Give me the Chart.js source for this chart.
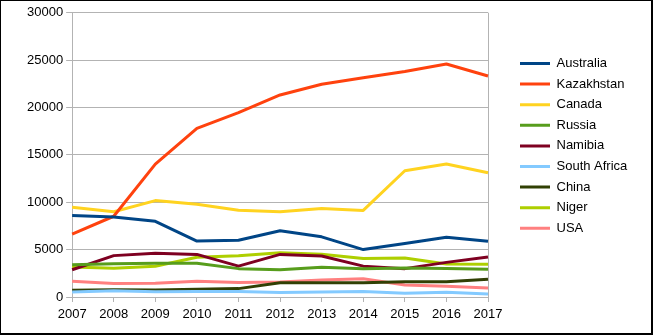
<!DOCTYPE html>
<html>
<head>
<meta charset="utf-8">
<script src="https://cdn.jsdelivr.net/npm/chart.js@4"></script>
<style>
  html, body { margin: 0; padding: 0; background: #fff; }
  #wrap { position: relative; width: 653px; height: 335px; }
  #frame { position: absolute; left: 0; top: 0; width: 653px; height: 335px; box-sizing: border-box;
           border-top: 1px solid #000; border-left: 1px solid #000; border-right: 2px solid #000; border-bottom: 2px solid #000; pointer-events: none; }
  canvas { display: block; }
</style>
</head>
<body>
<div id="wrap">
  <canvas id="c" width="653" height="335"></canvas>
  <div id="frame"></div>
</div>
<script>
const years = ['2007','2008','2009','2010','2011','2012','2013','2014','2015','2016','2017'];
const australia   = [8611, 8430, 7982, 5900, 5983, 6991, 6350, 5001, 5654, 6315, 5882];
const kazakhstan  = [6637, 8521, 14020, 17803, 19451, 21317, 22451, 23127, 23800, 24586, 23321];
const canada      = [9476, 9000, 10173, 9783, 9145, 8999, 9331, 9134, 13325, 14039, 13116];
const russia      = [3413, 3521, 3564, 3562, 2993, 2872, 3135, 2990, 3055, 3004, 2917];
const namibia     = [2879, 4366, 4626, 4496, 3258, 4495, 4323, 3255, 2993, 3654, 4224];
const southAfrica = [539, 655, 563, 583, 582, 465, 531, 573, 393, 490, 308];
const china       = [712, 769, 750, 827, 885, 1500, 1500, 1500, 1616, 1616, 1885];
const niger       = [3153, 3032, 3243, 4198, 4351, 4667, 4518, 4057, 4116, 3479, 3449];
const usa         = [1654, 1430, 1453, 1660, 1537, 1596, 1792, 1919, 1256, 1125, 940];

const seriesNames = ['Australia','Kazakhstan','Canada','Russia','Namibia','South Africa','China','Niger','USA'];
const seriesData  = [australia, kazakhstan, canada, russia, namibia, southAfrica, china, niger, usa];
const seriesColors = ['#004586','#ff420e','#ffd320','#579d1c','#7e0021','#83caff','#314004','#aecf00','#ff8080'];

const yTicks = [0, 5000, 10000, 15000, 20000, 25000, 30000];

const GRID = '#b3b3b3';
const FONT = { family: 'Liberation Sans, Arial, sans-serif', size: 13 };

const legendPlace = {
  id: 'legendPlace',
  beforeLayout(chart) {
    const lg = chart.legend;
    if (lg && !lg._patched) {
      const orig = lg.fit.bind(lg);
      lg.fit = function () { orig(); this.width = 165; };
      lg._patched = true;
    }
  },
  afterLayout(chart) {
    const lg = chart.legend;
    const pad = lg.options.labels.padding;
    lg.left = chart.chartArea.right + 32 - pad;
    lg.top = 57 - pad;
  }
};

new Chart(document.getElementById('c'), {
  type: 'line',
  data: {
    labels: years,
    datasets: seriesNames.map((n, i) => ({
      label: n,
      data: seriesData[i],
      borderColor: seriesColors[i],
      backgroundColor: seriesColors[i],
      borderWidth: 3,
      pointRadius: 0,
      tension: 0,
      borderJoinStyle: 'round'
    }))
  },
  options: {
    responsive: false,
    animation: false,
    devicePixelRatio: 1,
    layout: { padding: { left: 24, right: 0, top: 12.7, bottom: 7.4 } },
    plugins: {
      tooltip: { enabled: false },
      legend: {
        position: 'right',
        align: 'start',
        labels: {
          font: FONT,
          color: '#000',
          boxWidth: 30,
          boxHeight: 3,
          padding: 7.6,
          generateLabels(chart) {
            const items = Chart.defaults.plugins.legend.labels.generateLabels(chart);
            items.forEach(it => { it.lineWidth = 0; it.fillStyle = it.strokeStyle; });
            return items;
          }
        }
      }
    },
    scales: {
      x: {
        offset: false,
        grid: {
          color: (ctx) => (ctx.index === years.length - 1 ? GRID : 'rgba(0,0,0,0)'),
          tickColor: GRID,
          tickLength: 5,
          lineWidth: 1
        },
        border: { color: GRID },
        ticks: { font: FONT, color: '#000', padding: 5, maxRotation: 0, autoSkip: false }
      },
      y: {
        min: 0,
        max: 30000,
        afterBuildTicks(axis) { axis.ticks = yTicks.map(v => ({ value: v })); },
        grid: { color: GRID, tickColor: GRID, tickLength: 6 },
        border: { color: GRID },
        ticks: { font: FONT, color: '#000', padding: 3, callback: (v) => String(v) }
      }
    }
  },
  plugins: [legendPlace]
});
</script>
</body>
</html>
